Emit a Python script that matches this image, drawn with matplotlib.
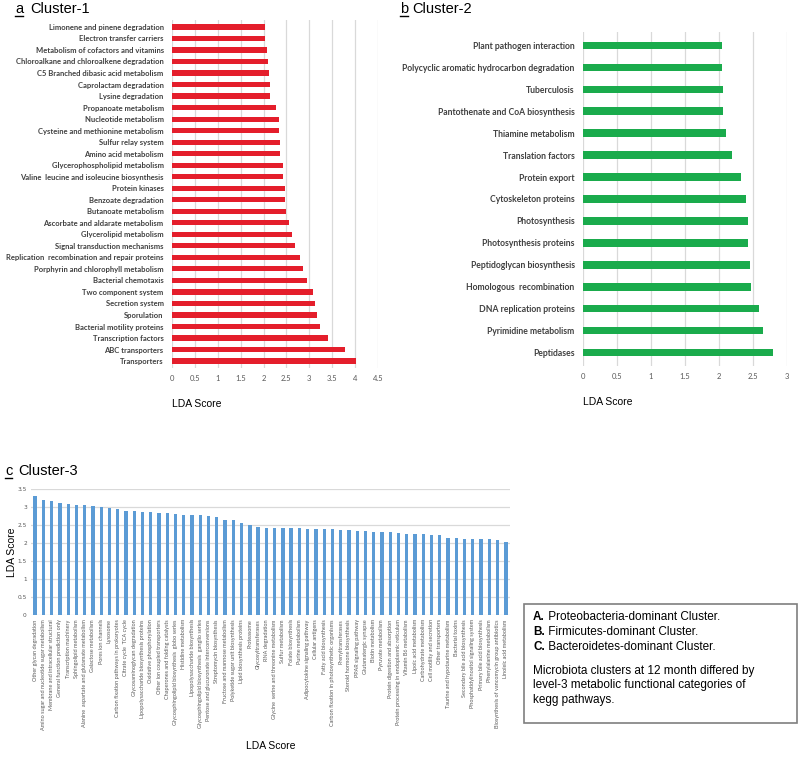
import matplotlib
matplotlib.use("Agg")
import matplotlib.pyplot as plt
from matplotlib.patches import Rectangle
from matplotlib.lines import Line2D

# données (LDA score)
cl1_noms = ["Limonene and pinene degradation", "Electron transfer carriers",
            "Metabolism of cofactors and vitamins", "Chloroalkane and chloroalkene degradation",
            "C5 Branched dibasic acid metabolism", "Caprolactam degradation", "Lysine degradation",
            "Propanoate metabolism", "Nucleotide metabolism", "Cysteine and methionine metabolism",
            "Sulfur relay system", "Amino acid metabolism", "Glycerophospholipid metabolism",
            "Valine  leucine and isoleucine biosynthesis", "Protein kinases", "Benzoate degradation",
            "Butanoate metabolism", "Ascorbate and aldarate metabolism", "Glycerolipid metabolism",
            "Signal transduction mechanisms", "Replication  recombination and repair proteins",
            "Porphyrin and chlorophyll metabolism", "Bacterial chemotaxis", "Two component system",
            "Secretion system", "Sporulation", "Bacterial motility proteins", "Transcription factors",
            "ABC transporters", "Transporters"]
cl1_lda = [2.04, 2.04, 2.08, 2.09, 2.11, 2.13, 2.15, 2.27, 2.33, 2.34, 2.36, 2.36, 2.42, 2.43,
           2.47, 2.47, 2.50, 2.55, 2.63, 2.68, 2.80, 2.86, 2.95, 3.09, 3.13, 3.16, 3.24, 3.40,
           3.78, 4.01]
cl1_ticks = [0, 0.5, 1, 1.5, 2, 2.5, 3, 3.5, 4, 4.5]

cl2_noms = ["Plant pathogen interaction", "Polycyclic aromatic hydrocarbon degradation",
            "Tuberculosis", "Pantothenate and CoA biosynthesis", "Thiamine metabolism",
            "Translation factors", "Protein export", "Cytoskeleton proteins", "Photosynthesis",
            "Photosynthesis proteins", "Peptidoglycan biosynthesis", "Homologous  recombination",
            "DNA replication proteins", "Pyrimidine metabolism", "Peptidases"]
cl2_lda = [2.05, 2.05, 2.06, 2.06, 2.11, 2.19, 2.32, 2.39, 2.42, 2.43, 2.46, 2.47, 2.59, 2.65, 2.79]
cl2_ticks = [0, 0.5, 1, 1.5, 2, 2.5, 3]

cl3_noms = ["Other glycan degradation", "Amino sugar and nucleotide sugar metabolism",
            "Membrane and intracellular structural", "General function prediction only",
            "Transcription machinery", "Sphingolipid metabolism",
            "Alanine  aspartate and glutamate metabolism", "Galactose metabolism",
            "Pores ion channels", "Lysosome", "Carbon fixation pathways in prokaryotes",
            "Citrate cycle  TCA cycle", "Glycosaminoglycan degradation",
            "Lipopolysaccharide biosynthesis proteins", "Oxidative phosphorylation",
            "Other ion coupled transporters", "Chaperones and folding catalysts",
            "Glycosphingolipid biosynthesis  globo series", "Histidine metabolism",
            "Lipopolysaccharide biosynthesis", "Glycosphingolipid biosynthesis  ganglio series",
            "Pentose and glucuronate interconversions", "Streptomycin biosynthesis",
            "Fructose and mannose metabolism", "Polyketide sugar unit biosynthesis",
            "Lipid biosynthesis proteins", "Proteasome", "Glycosyltransferases", "RNA degradation",
            "Glycine  serine and threonine metabolism", "Sulfur metabolism", "Folate biosynthesis",
            "Purine metabolism", "Adipocytokine signaling pathway", "Cellular antigens",
            "Fatty acid biosynthesis", "Carbon fixation in photosynthetic organisms",
            "Prenyltransferases", "Steroid hormone biosynthesis", "PPAR signaling pathway",
            "Glutamatergic synapse", "Biotin metabolism", "Pyruvate metabolism",
            "Protein digestion and absorption", "Protein processing in endoplasmic reticulum",
            "Vitamin B6 metabolism", "Lipoic acid metabolism", "Carbohydrate metabolism",
            "Cell motility and secretion", "Other transporters",
            "Taurine and hypotaurine metabolism", "Bacterial toxins",
            "Secondary bile acid biosynthesis", "Phosphatidylinositol signaling system",
            "Primary bile acid biosynthesis", "Phenylalanine metabolism",
            "Biosynthesis of vancomycin group antibiotics", "Linoleic acid metabolism"]
cl3_lda = [3.31, 3.19, 3.17, 3.12, 3.08, 3.06, 3.05, 3.02, 3.01, 2.98, 2.94, 2.89, 2.89, 2.87,
           2.87, 2.84, 2.83, 2.81, 2.78, 2.78, 2.77, 2.74, 2.73, 2.64, 2.63, 2.56, 2.50, 2.44,
           2.42, 2.42, 2.41, 2.41, 2.41, 2.40, 2.40, 2.39, 2.38, 2.37, 2.36, 2.33, 2.32, 2.31,
           2.31, 2.30, 2.29, 2.26, 2.24, 2.24, 2.22, 2.21, 2.14, 2.14, 2.12, 2.12, 2.11, 2.10,
           2.07, 2.04]
cl3_ticks = [0, 0.5, 1, 1.5, 2, 2.5, 3, 3.5]

legende = [("A.", " Proteobacteria-dominant Cluster."),
           ("B.", " Firmicutes-dominant Cluster."),
           ("C.", " Bacteroidetes-dominant Cluster.")]
note = ("Microbiota clusters at 12 month differed by\n"
        "level-3 metabolic functional categories of\n"
        "kegg pathways.")

W, H = 800, 764
plt.rcParams['font.family'] = ['Liberation Sans', 'DejaVu Sans']
fig = plt.figure(figsize=(W / 100, H / 100), dpi=100)

gris_grille = '#d9d9d9'
gris_texte = '#404040'
gris_ticks = '#595959'


def fx(px):
    return px / W


def fy(py):
    return 1 - py / H


def titre(x, y, lettre, nom, dx):
    t = fig.text(fx(x), fy(y), lettre, fontsize=10.5, va='center', ha='left')
    fig.canvas.draw()
    bb = t.get_window_extent()
    fig.add_artist(Line2D([bb.x0 / W, bb.x1 / W], [fy(y + 7), fy(y + 7)], color='black', lw=1))
    fig.text(fx(x + dx), fy(y), nom, fontsize=10.5, va='center', ha='left')


def panneau_h(ax, noms, vals, ticks, couleur, hauteur, taille):
    y = range(len(noms))
    ax.barh(y, vals, height=hauteur, color=couleur, zorder=3)
    ax.set_yticks(list(y))
    ax.set_yticklabels(noms, family=['Lato', 'DejaVu Sans'], fontweight='bold',
                       fontsize=taille, color=gris_texte)
    ax.set_ylim(len(noms) - 0.4, -0.6)
    ax.set_xlim(ticks[0], ticks[-1])
    ax.set_xticks(ticks)
    ax.set_xticklabels([f"{t:g}" for t in ticks], family=['Lato', 'DejaVu Sans'],
                       fontsize=5.5, color=gris_ticks)
    ax.tick_params(length=0, pad=6)
    ax.tick_params(axis='x', pad=5)
    ax.grid(axis='x', color=gris_grille, lw=0.9, zorder=0)
    for s in ax.spines.values():
        s.set_visible(False)
    ax.set_xlabel('LDA Score', loc='left', fontsize=7.5, labelpad=12)


# Cluster-1
ax1 = fig.add_axes([fx(172), fy(368), fx(378 - 172), (368 - 20) / H])
panneau_h(ax1, cl1_noms, cl1_lda, cl1_ticks, '#e41e2b', 0.45, 5.5)

# Cluster-2
ax2 = fig.add_axes([fx(583), fy(366), fx(787 - 583), (366 - 32) / H])
panneau_h(ax2, cl2_noms, cl2_lda, cl2_ticks, '#1aab4c', 0.33, 6.2)

# Cluster-3
ax3 = fig.add_axes([fx(31), fy(615), fx(510 - 31), (615 - 489) / H])
x3 = range(len(cl3_noms))
ax3.bar(x3, cl3_lda, width=0.4, color='#5b9bd5', zorder=3)
ax3.set_xlim(-0.5, len(cl3_noms) - 0.5)
ax3.set_ylim(0, 3.5)
ax3.set_yticks(cl3_ticks)
ax3.set_yticklabels([f"{t:g}" for t in cl3_ticks], fontsize=4.2, color=gris_ticks,
                    family=['DejaVu Sans'])
ax3.set_xticks(list(x3))
ax3.set_xticklabels(cl3_noms, rotation=90, fontsize=4.0, color=gris_ticks,
                    family=['Lato', 'DejaVu Sans'])
ax3.tick_params(length=0, pad=3)
ax3.grid(axis='y', color=gris_grille, lw=0.9, zorder=0)
for s in ax3.spines.values():
    s.set_visible(False)
ax3.set_ylabel('LDA Score', fontsize=7.5, labelpad=0)
ax3.set_xlabel('LDA Score', fontsize=7.5, labelpad=8)

titre(15, 9, 'a', 'Cluster-1', 15)
titre(400, 9, 'b', 'Cluster-2', 12)
titre(5, 471, 'c', 'Cluster-3', 13)

# encadré de légende
fig.add_artist(Rectangle((fx(524), fy(723)), fx(797 - 524), (723 - 604) / H,
                         transform=fig.transFigure, fill=False, edgecolor='#7f7f7f', lw=1.2))
for i, (lettre, texte) in enumerate(legende):
    t = fig.text(fx(533), fy(617 + 15 * i), lettre, fontsize=8.5, fontweight='bold',
                 va='center', ha='left')
    fig.add_artist(plt.Annotation(texte, xy=(1, 0.5), xycoords=t, fontsize=8.5,
                                  va='center', ha='left'))
fig.text(fx(533), fy(665), note, fontsize=8.5, va='top', ha='left', linespacing=1.27)

fig.savefig('out.png', dpi=100)
